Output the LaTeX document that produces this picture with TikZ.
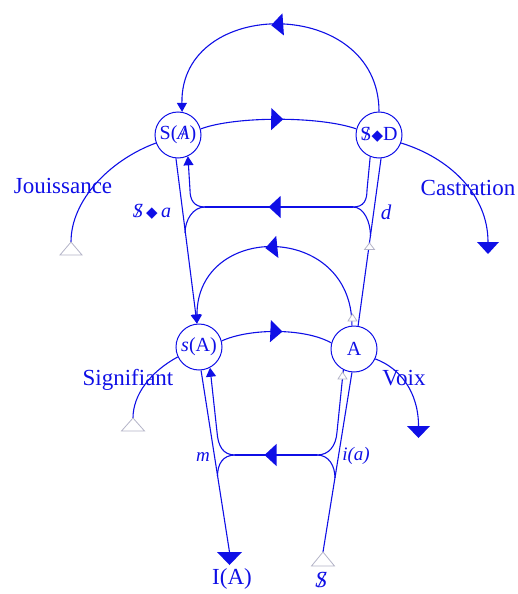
\documentclass[tikz,border=0pt]{standalone}
\usepackage{fontspec}
\setmainfont{Liberation Serif}
\newfontfamily\dejavu{DejaVu Sans}
\usetikzlibrary{arrows.meta,decorations.markings}
\definecolor{lacan}{RGB}{15,15,230}
\definecolor{ghostgray}{RGB}{180,180,200}
% barred subject, barred Other, lozenge
\newcommand{\barS}{\ooalign{S\cr\hidewidth\kern0.06em/\hidewidth\cr}}
\newcommand{\barredA}{\ooalign{\textit{A}\cr\hidewidth/\hidewidth\cr}}
\newcommand{\lozen}{{\fontsize{15}{15}\selectfont\dejavu ◆}}
\begin{document}
\begin{tikzpicture}[x=1pt,y=-1pt,
  wire/.style={draw=lacan, line width=1.1pt},
  place/.style={circle, draw=lacan, line width=1pt, minimum size=46pt, inner sep=0pt,
    text=lacan, font=\fontsize{20}{20}\selectfont},
  lbl/.style={text=lacan, inner sep=0pt, font=\fontsize{23}{23}\selectfont},
  ilbl/.style={text=lacan, inner sep=0pt, font=\fontsize{19}{19}\selectfont\itshape},
  midtip/.style={postaction={decorate}, decoration={markings,
    mark=at position #1 with {\arrow[lacan]{Triangle[length=12pt,width=22pt]}}}},
  endtip/.style={-{Triangle[length=9pt,width=10pt]}},
  ghost/.style={draw=ghostgray, line width=0.8pt, fill=white},
  solidtri/.style={fill=lacan}
]
\useasboundingbox (0,0) rectangle (518,594);

% the four places of the graph
\node[place] (SA) at (178,135) {S(\barredA)};
\node[place] (SD) at (379,135) {\barS\lozen D};
\node[place] (sA) at (199,347) {\textit{s}(A)};
\node[place] (A)  at (354,349) {A};

% junctions and free ends
\coordinate (L1) at (205,207);
\coordinate (R1) at (353,207);
\coordinate (L2) at (235,455);
\coordinate (R2) at (317,455);
\coordinate (J)  at (71,242);
\coordinate (Sg) at (133,418);
\coordinate (C)  at (488,242);
\coordinate (V)  at (418.5,426);
\coordinate (IA) at (229.5,552);
\coordinate (S0) at (323,552);

% labels
\node[lbl] (tJ)  at (63,186)  {Jouissance};
\node[lbl] (tC)  at (468,188) {Castration};
\node[lbl] (tS)  at (128,380) {Signifiant};
\node[lbl] (tV)  at (404,378) {Voix};
\node[lbl] (tIA) at (232,579) {I(A)};
\node[lbl] (tS0) at (321,580) {\textit{\barS}};
\node[ilbl] (tm)  at (203,457) {m};
\node[ilbl] (tia) at (356,456) {i(a)};
\node[ilbl, font=\fontsize{21}{21}\selectfont\itshape] (td) at (386,212) {d};
\node[ilbl, font=\fontsize{20}{20}\selectfont\itshape] (tsa) at (152,212) {\barS\,\lozen\,a};

% upper and lower domes
\draw[wire, endtip, midtip=0.53] (SD.north) .. controls (379,-4) and (180,-4) .. (SA.80);
\draw[wire, endtip, midtip=0.54] (A.95) .. controls (352,222) and (197,222) .. (sA.95);

% chains between the places
\draw[wire, midtip=0.53] (SA.15) .. controls (235,116) and (320,116) .. (SD.165);
\draw[wire, midtip=0.55] (sA.15) .. controls (250,328) and (305,328) .. (A.165);

% main vectors
\draw[wire, endtip] (SA.265) -- (sA.95);
\draw[wire] (A.80) -- (SD.275);
\draw[wire] (sA.275) -- (IA);
\draw[wire] (S0) -- (A.265);

% upper crossing
\draw[wire, midtip=0.57] (R1) -- (L1);
\draw[wire, endtip] (L1) .. controls (194,207) and (190,200) .. (190,190) -- (SA.295);
\draw[wire] (L1) .. controls (193,207) and (185,220) .. (185,233);
\draw[wire] (R1) .. controls (364,207) and (367,200) .. (367,190) -- (SD.248);
\draw[wire] (R1) .. controls (364,207) and (370.5,222) .. (370.5,236);

% lower crossing
\draw[wire, midtip=0.64] (R2) -- (L2);
\draw[wire, endtip] (L2) .. controls (223,455) and (218,446) .. (217,432) -- (sA.298);
\draw[wire] (L2) .. controls (223,455) and (217.5,464) .. (217.5,476);
\draw[wire] (R2) .. controls (329,455) and (336,446) .. (337,432) -- (A.243);
\draw[wire] (R2) .. controls (329,455) and (335,466) .. (335,478);

% side branches
\draw[wire] (SA.200) .. controls (110,160) and (71,200) .. (J);
\draw[wire] (SD.340) .. controls (450,158) and (488,195) .. (C);
\draw[wire] (sA.205) .. controls (150,372) and (133,395) .. (Sg);
\draw[wire] (A.335) .. controls (400,368) and (418.5,392) .. (V);

% terminal marks
\draw[ghost] (J) -- ++(11,13) -- ++(-22,0) -- cycle;
\draw[ghost] (Sg) -- ++(11.5,13) -- ++(-23,0) -- cycle;
\draw[ghost] (S0) -- ++(11.5,14) -- ++(-23,0) -- cycle;
\fill[solidtri] (C) ++(-11,0) -- ++(22,0) -- ++(-11,12) -- cycle;
\fill[solidtri] (V) ++(-11.5,0) -- ++(23,0) -- ++(-11.5,12) -- cycle;
\fill[solidtri] (IA) ++(-12.5,0) -- ++(25,0) -- ++(-12.5,13) -- cycle;

% small open marks on the vectors
\draw[ghost] (369.5,243) -- ++(5,6.5) -- ++(-10,0) -- cycle;
\draw[ghost] (352.5,314) -- ++(4.5,7) -- ++(-9,0) -- cycle;
\draw[ghost] (342.5,372) -- ++(4.5,7) -- ++(-9,0) -- cycle;
\end{tikzpicture}
\end{document}
